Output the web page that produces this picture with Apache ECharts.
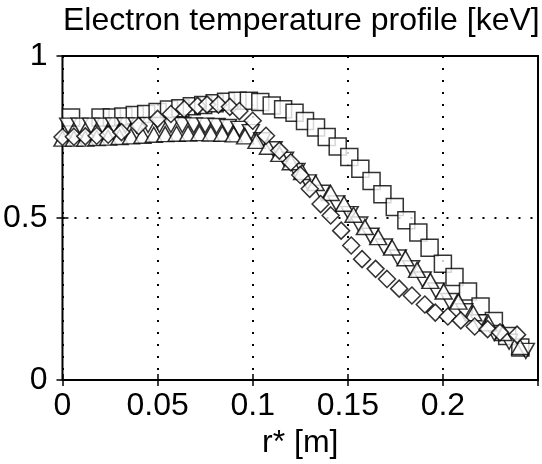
<!DOCTYPE html>
<html>
<head>
<meta charset="utf-8">
<script src="https://cdn.jsdelivr.net/npm/echarts@6/dist/echarts.min.js"></script>
<style>
html,body{margin:0;padding:0;background:#fff;}
#c{width:542px;height:464px;}
</style>
</head>
<body>
<div id="c"></div>
<script>
// Squares
var sqX = [0.0045, 0.020, 0.026, 0.032, 0.038, 0.044, 0.050, 0.056, 0.062, 0.068, 0.074, 0.080, 0.086, 0.092, 0.098, 0.104, 0.110, 0.116, 0.122, 0.1275, 0.1333, 0.1389, 0.1447, 0.1508, 0.1566, 0.1625, 0.1682, 0.1747, 0.1808, 0.1871, 0.1930, 0.2000, 0.2061, 0.2132, 0.2198, 0.2268, 0.2338, 0.2407];
var sqY = [0.810, 0.810, 0.810, 0.813, 0.818, 0.821, 0.827, 0.835, 0.839, 0.845, 0.849, 0.854, 0.859, 0.862, 0.862, 0.858, 0.847, 0.836, 0.825, 0.799, 0.779, 0.750, 0.721, 0.688, 0.652, 0.614, 0.573, 0.534, 0.493, 0.455, 0.408, 0.359, 0.318, 0.273, 0.227, 0.182, 0.136, 0.100];
// Down-pointing triangles
var dtX = [0.003, 0.009, 0.015, 0.021, 0.027, 0.033, 0.039, 0.045, 0.051, 0.057, 0.063, 0.069, 0.075, 0.081, 0.087, 0.093, 0.099, 0.105, 0.111, 0.117, 0.123, 0.129, 0.1361, 0.144, 0.151, 0.156, 0.162, 0.169, 0.1763, 0.1833, 0.1894, 0.1964, 0.2034, 0.2112, 0.219, 0.227, 0.2348, 0.2436];
var dtY = [0.785, 0.785, 0.785, 0.785, 0.786, 0.786, 0.786, 0.787, 0.787, 0.787, 0.787, 0.786, 0.785, 0.784, 0.781, 0.775, 0.765, 0.740, 0.712, 0.680, 0.645, 0.610, 0.578, 0.545, 0.512, 0.480, 0.445, 0.412, 0.378, 0.345, 0.310, 0.276, 0.244, 0.212, 0.178, 0.145, 0.118, 0.090];
// Up-pointing triangles
var trX = [0.000, 0.006, 0.012, 0.018, 0.024, 0.030, 0.036, 0.042, 0.048, 0.054, 0.060, 0.066, 0.072, 0.078, 0.084, 0.090, 0.096, 0.102, 0.108, 0.114, 0.120, 0.126, 0.1331, 0.141, 0.148, 0.153, 0.159, 0.166, 0.1733, 0.1803, 0.1864, 0.1934, 0.2004, 0.2082, 0.216, 0.224, 0.2318, 0.2406];
var trY = [0.745, 0.745, 0.745, 0.747, 0.748, 0.750, 0.752, 0.754, 0.757, 0.759, 0.760, 0.761, 0.762, 0.761, 0.760, 0.758, 0.752, 0.738, 0.720, 0.698, 0.672, 0.642, 0.608, 0.577, 0.544, 0.510, 0.472, 0.441, 0.409, 0.376, 0.340, 0.306, 0.273, 0.242, 0.206, 0.175, 0.145, 0.102];
// Diamonds
var dmX = [0.000, 0.006, 0.012, 0.018, 0.024, 0.031, 0.040, 0.050, 0.057, 0.064, 0.071, 0.076, 0.082, 0.088, 0.093, 0.100, 0.107, 0.114, 0.120, 0.125, 0.130, 0.1357, 0.141, 0.1465, 0.1518, 0.1575, 0.1646, 0.1706, 0.177, 0.1837, 0.1905, 0.196, 0.2026, 0.2094, 0.2167, 0.2235, 0.230, 0.239];
var dmY = [0.750, 0.751, 0.752, 0.754, 0.757, 0.765, 0.784, 0.806, 0.821, 0.836, 0.846, 0.850, 0.850, 0.843, 0.830, 0.800, 0.754, 0.708, 0.672, 0.633, 0.590, 0.543, 0.508, 0.461, 0.415, 0.373, 0.343, 0.312, 0.282, 0.261, 0.233, 0.208, 0.196, 0.184, 0.165, 0.157, 0.147, 0.140];

var titleText = 'Electron temperature profile [keV]';
var xName = 'r* [m]';

function pairs(xs, ys) {
  var out = [];
  for (var i = 0; i < Math.min(xs.length, ys.length); i++) out.push([xs[i], ys[i]]);
  return out;
}

var FONT = 'Liberation Sans, Arial, Helvetica, sans-serif';
var chart = echarts.init(document.getElementById('c'), null, {renderer: 'canvas'});

var markerStyle = {color: '#ffffff', borderColor: '#000000', borderWidth: 1.5};
var dotted = {color: '#000', width: 2, type: [2, 10]};

chart.setOption({
  animation: false,
  backgroundColor: '#ffffff',
  title: {
    text: titleText,
    left: 58,
    top: 0,
    textStyle: {fontFamily: FONT, fontSize: 32, fontWeight: 'normal', color: '#000'}
  },
  grid: {left: 61, right: 4, top: 56, bottom: 83, show: true, borderColor: '#000', borderWidth: 2, backgroundColor: 'transparent'},
  xAxis: [{
    type: 'value', min: 0, max: 0.25, interval: 0.05, position: 'bottom',
    name: xName, nameLocation: 'middle', nameGap: 47,
    nameTextStyle: {fontFamily: FONT, fontSize: 32, color: '#000'},
    axisLine: {show: false},
    axisTick: {show: true, inside: true, length: 6, lineStyle: {color: '#000', width: 1.5}},
    axisLabel: {fontFamily: FONT, fontSize: 32, color: '#000', margin: 10, showMaxLabel: false,
      formatter: function (v) { return String(+v.toFixed(3)); }},
    splitLine: {show: true, lineStyle: dotted}
  }, {
    type: 'value', min: 0, max: 0.25, interval: 0.05, position: 'top',
    axisLine: {show: false}, axisLabel: {show: false}, splitLine: {show: false},
    axisTick: {show: true, inside: true, length: 6, lineStyle: {color: '#000', width: 1.5}}
  }],
  yAxis: [{
    type: 'value', min: 0, max: 1, interval: 0.5, position: 'left',
    axisLine: {show: false},
    axisTick: {show: true, inside: true, length: 6, lineStyle: {color: '#000', width: 1.5}},
    axisLabel: {fontFamily: FONT, fontSize: 32, color: '#000', margin: 15,
      formatter: function (v) { return String(+v.toFixed(2)); }},
    splitLine: {show: true, lineStyle: dotted}
  }, {
    type: 'value', min: 0, max: 1, interval: 0.5, position: 'right',
    axisLine: {show: false}, axisLabel: {show: false}, splitLine: {show: false},
    axisTick: {show: true, inside: true, length: 6, lineStyle: {color: '#000', width: 1.5}}
  }],
  series: [
    {type: 'scatter', xAxisIndex: 0, yAxisIndex: 0, symbol: 'rect', symbolSize: 17, itemStyle: markerStyle, data: pairs(sqX, sqY), z: 2},
    {type: 'scatter', xAxisIndex: 0, yAxisIndex: 0, symbol: 'triangle', symbolRotate: 180, symbolSize: [17, 15], itemStyle: markerStyle, data: pairs(dtX, dtY), z: 3},
    {type: 'scatter', xAxisIndex: 0, yAxisIndex: 0, symbol: 'triangle', symbolSize: [17, 15], itemStyle: markerStyle, data: pairs(trX, trY), z: 4},
    {type: 'scatter', xAxisIndex: 0, yAxisIndex: 0, symbol: 'diamond', symbolSize: 17, itemStyle: markerStyle, data: pairs(dmX, dmY), z: 5}
  ]
});
</script>
</body>
</html>
